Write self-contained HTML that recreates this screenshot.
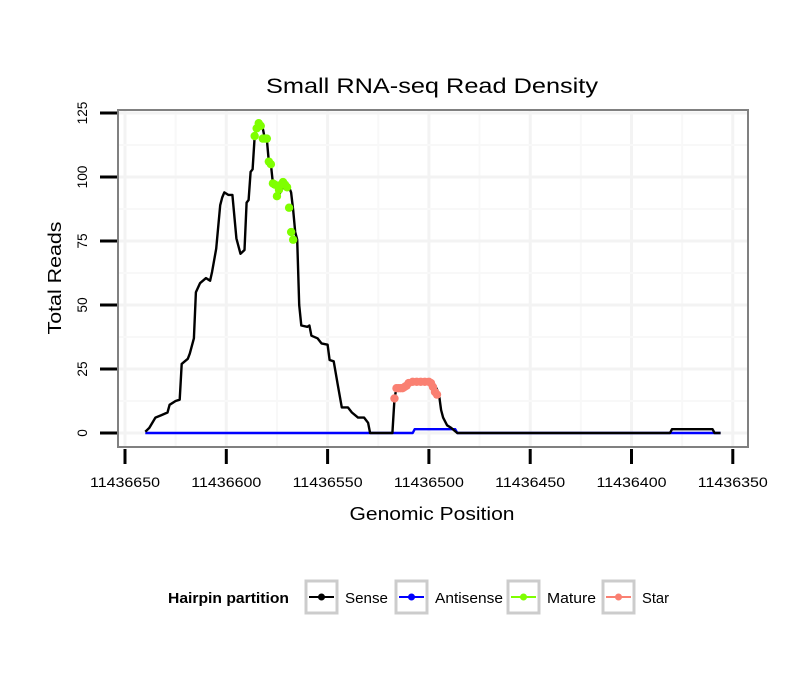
<!DOCTYPE html>
<html><head><meta charset="utf-8"><style>
body{margin:0;background:#fff;}
svg{display:block;font-family:"Liberation Sans",Arial,sans-serif;}
</style></head><body>
<svg id="chart" width="810" height="690" viewBox="0 0 810 690">
<rect x="0" y="0" width="810" height="690" fill="#fff"/>
<text x="432" y="93" font-size="21" text-anchor="middle" textLength="332" lengthAdjust="spacingAndGlyphs">Small RNA-seq Read Density</text>
<g id="grid"></g>
<g id="series"></g>
<rect x="118" y="110" width="630" height="337" fill="none" stroke="#808080" stroke-width="2"/>
<g id="axes"></g>
<text x="432" y="520" font-size="18" text-anchor="middle" textLength="165" lengthAdjust="spacingAndGlyphs">Genomic Position</text>
<text transform="translate(61,278) rotate(-90)" font-size="18" text-anchor="middle" textLength="113" lengthAdjust="spacingAndGlyphs">Total Reads</text>
<g id="legend">
<text x="168" y="603" font-size="15" font-weight="bold" textLength="121" lengthAdjust="spacingAndGlyphs">Hairpin partition</text>
</g>
</svg>
<script>
const xTicks=[11436650,11436600,11436550,11436500,11436450,11436400,11436350];
const yTicks=[0,25,50,75,100,125];
const sensePos=[11436640,11436638,11436635,11436632,11436629,11436628,11436625,11436623,11436622,11436619,11436618,11436616,11436615,11436613,11436610,11436608,11436607,11436605,11436603,11436602,11436601,11436599,11436597,11436595,11436593,11436591,11436590,11436589,11436588,11436587,11436586,11436585,11436584,11436582,11436581,11436580,11436579,11436578,11436577,11436575,11436574,11436572,11436571,11436569,11436568,11436567,11436566,11436565,11436564,11436563,11436560,11436559,11436558,11436555,11436553,11436550,11436549,11436547,11436545,11436543,11436540,11436538,11436535,11436532,11436530,11436529,11436518,11436517,11436516,11436513,11436510,11436502,11436498,11436496,11436495,11436494,11436493,11436491,11436489,11436486,11436381,11436380,11436360,11436359,11436356];
const senseVal=[0.5,2,6,7,8,11,12.5,13,27,29,31,37,55,58.5,60.5,59.5,63,72,89,92,94,93,93,76,70,71.5,90,91,102,103,116,119,121,119,115,115,106,105,97.5,97,93,96,98,96,94,87,78.5,75.5,50,42,41.5,42,38,37,35,34.5,28.5,28,19,10,10,8,6,6,4,0,0,13.5,17.5,17.5,19.5,20,20,17,15,9,6,3,2,0,0,1.5,1.5,0,0];
const antiPos=[11436640,11436508,11436507,11436487,11436486,11436356];
const antiVal=[0,0,1.5,1.5,0,0];
const maturePos=[11436586,11436585,11436584,11436583,11436582,11436581,11436580,11436579,11436578,11436577,11436576,11436575,11436574,11436573,11436572,11436571,11436570,11436569,11436568,11436567];
const matureVal=[116,119,121,120,115,115,115,106,105,97.5,97,92.5,95,97,98,97,96,88,78.5,75.5];
const starPos=[11436517,11436516,11436515,11436514,11436513,11436512,11436511,11436510,11436508,11436506,11436504,11436502,11436500,11436499,11436498,11436497,11436496];
const starVal=[13.5,17.5,17.5,17.5,17.5,18,18.5,19.5,20,20,20,20,20,19.5,18,16,15];

const NS='http://www.w3.org/2000/svg';
function X(p){return 125+(11436650-p)*2.026;}
function Y(v){return 433-v*2.56;}
function mk(tag,attrs,parent){const e=document.createElementNS(NS,tag);for(const k in attrs)e.setAttribute(k,attrs[k]);parent.appendChild(e);return e;}
const grid=document.getElementById('grid'),axes=document.getElementById('axes'),series=document.getElementById('series'),legend=document.getElementById('legend');

for(let i=0;i<xTicks.length;i++){
  const gx=X(xTicks[i]);
  const gl=mk('line',{x1:gx,x2:gx,y1:111,y2:446,stroke:'#f3f3f3','stroke-width':3},grid);
  
  
  if(i<xTicks.length-1){const mx=X(xTicks[i]-25);
    const ml=mk('line',{x1:mx,x2:mx,y1:111,y2:446,stroke:'#f8f8f8','stroke-width':2},grid);
    
    }
}
for(let i=0;i<yTicks.length;i++){
  const gy=Y(yTicks[i]);
  const gl=mk('line',{x1:119,x2:747,y1:gy,y2:gy,stroke:'#f3f3f3','stroke-width':3},grid);
  
  
  if(i<yTicks.length-1){const my=Y(yTicks[i]+12.5);
  const ml=mk('line',{x1:119,x2:747,y1:my,y2:my,stroke:'#f8f8f8','stroke-width':2},grid);
  
  }
}
xTicks.forEach(t=>{
  const tx=X(t);
  const tk=mk('line',{x1:tx,x2:tx,y1:449,y2:464,stroke:'#000','stroke-width':3},axes);
  
  
  const lb=mk('text',{x:tx,y:487,'font-size':14,'text-anchor':'middle',textLength:70,lengthAdjust:'spacingAndGlyphs'},axes);
  lb.textContent=t;
  
  
});
yTicks.forEach(t=>{
  const ty=Y(t);
  const tk=mk('line',{x1:100,x2:117,y1:ty,y2:ty,stroke:'#000','stroke-width':3},axes);
  
  
  const s=String(t);
  const lb=mk('text',{transform:'translate(87,'+ty+') rotate(-90)','font-size':14,'text-anchor':'middle',textLength:s.length*7.6,lengthAdjust:'spacingAndGlyphs'},axes);
  lb.textContent=t;
  
  
});
function line(pos,val,color,name){
  const d=pos.map((p,i)=>(i?'L':'M')+X(p).toFixed(1)+','+Y(val[i]).toFixed(1)).join('');
  const e=mk('path',{d:d,fill:'none',stroke:color,'stroke-width':2.4,'stroke-linejoin':'round'},series);
  
  
}
function points(pos,val,color,name){
  pos.forEach((p,i)=>{
    const c=mk('circle',{cx:X(p),cy:Y(val[i]),r:4.2,fill:color},series);
    
    
  });
}
line(antiPos,antiVal,'#0000ff','antisense-line');
line(sensePos,senseVal,'#000000','sense-line');
points(maturePos,matureVal,'#7fff00','mature-point');
points(starPos,starVal,'#fa8072','star-point');
const items=[['Sense','#000',306,43],['Antisense','#0000ff',396,68],['Mature','#7fff00',508,49],['Star','#fa8072',603,27]];
items.forEach(it=>{
  const bx=it[2];
  const box=mk('rect',{x:bx,y:581,width:31,height:32,fill:'#fff',stroke:'#cccccc','stroke-width':3},legend);
  
  
  const ln=mk('line',{x1:bx+3,x2:bx+28,y1:597,y2:597,stroke:it[1],'stroke-width':2},legend);
  
  
  const dt=mk('circle',{cx:bx+15.5,cy:597,r:3.5,fill:it[1]},legend);
  
  
  const tx=mk('text',{x:bx+39,y:603,'font-size':15,textLength:it[3],lengthAdjust:'spacingAndGlyphs'},legend);
  tx.textContent=it[0];
  
  
});
</script>
</body></html>
